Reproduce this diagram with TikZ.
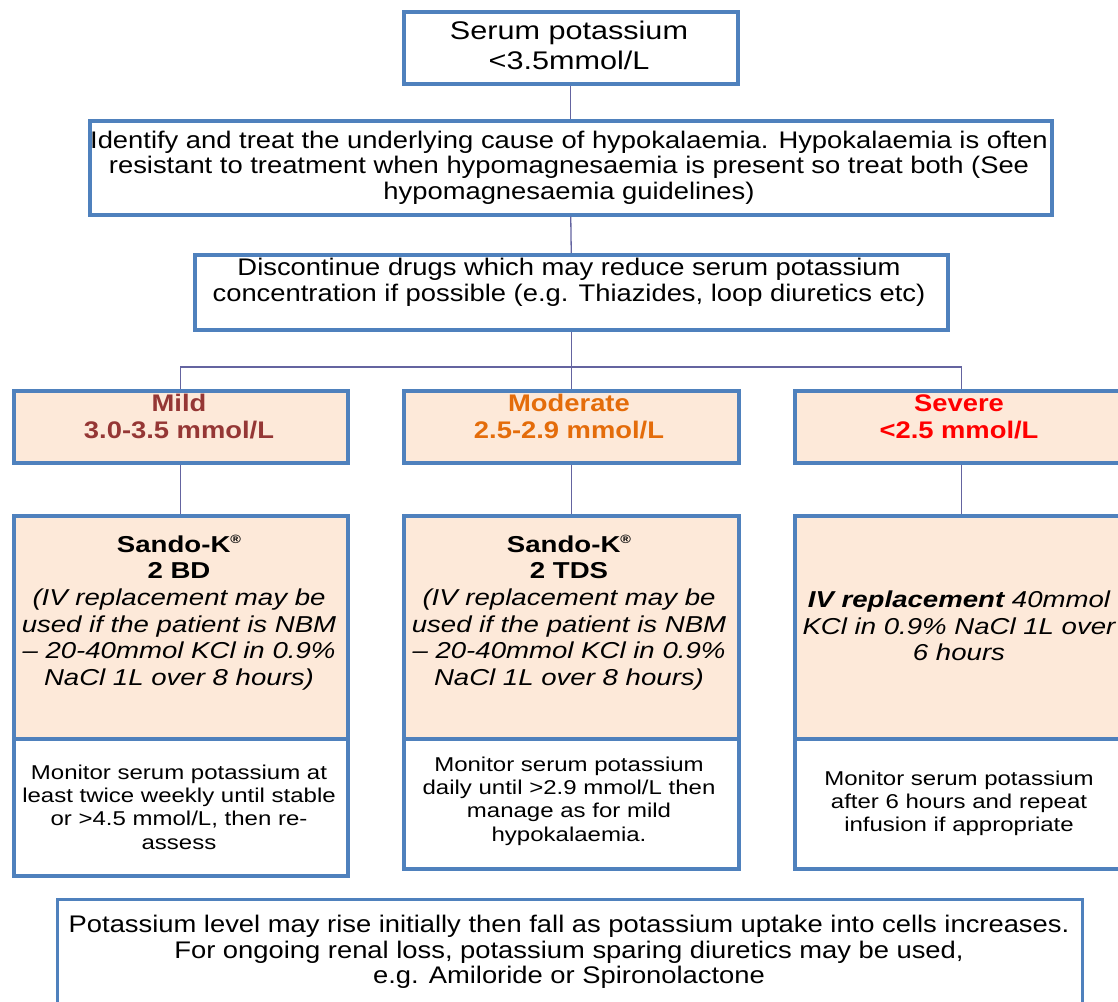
\documentclass[tikz,border=0pt]{standalone}
\usepackage{fontspec}
\setmainfont[FakeStretch=1.2]{Liberation Sans}
\newfontfamily\nar[FakeStretch=1.14]{Liberation Sans}
\definecolor{bord}{HTML}{4F81BD}
\definecolor{linkc}{HTML}{6464A0}
\definecolor{peach}{HTML}{FDE9D9}
\definecolor{mildc}{HTML}{953735}
\definecolor{modc}{HTML}{E46C0A}
\definecolor{sevc}{HTML}{FF0000}
\newcommand\bup[1]{{\bfseries\upshape #1}}
\newcommand\regmark{\raisebox{0.75ex}{\fontsize{12}{12}\selectfont ®}}
\tikzset{
 box/.style={draw=bord, line width=3.5pt, rectangle, inner sep=0pt, anchor=north west},
 pbox/.style={box, fill=peach},
 wbox/.style={box, fill=white},
 link/.style={draw=linkc, line width=1.3pt},
 txt/.style={align=center, inner sep=0pt, text=black},
 narrowtxt/.style={txt, font={\nar\fontsize{24}{25.6}\selectfont}},
 hdr/.style={align=center, inner sep=0pt, font={\nar\bfseries\fontsize{24}{27}\selectfont}},
 sando/.style={txt, font={\fontsize{23}{26.7}\selectfont\itshape}},
 mon/.style={txt, font={\fontsize{20}{23.3}\selectfont}},
}
\begin{document}
\begin{tikzpicture}[x=1pt,y=1pt]
\useasboundingbox (0,0) rectangle (1118,-1001);
\clip (0,0) rectangle (1118,-1001);
\coordinate (j) at (569,-367);
% boxes
\node[wbox, minimum width=334pt, minimum height=72pt] (top) at (402,-10) {};
\node[wbox, minimum width=962pt, minimum height=94pt] (b2) at (88,-119) {};
\node[wbox, minimum width=753pt, minimum height=75pt] (b3) at (193,-253) {};
\node[pbox, minimum width=334pt, minimum height=72pt] (hmild) at (12,-389) {};
\node[pbox, minimum width=335pt, minimum height=72pt] (hmod) at (402,-389) {};
\node[pbox, minimum width=334pt, minimum height=72pt] (hsev) at (793,-389) {};
\node[pbox, minimum width=334pt, minimum height=223pt] (smild) at (12,-514) {};
\node[pbox, minimum width=335pt, minimum height=223pt] (smod) at (402,-514) {};
\node[pbox, minimum width=334pt, minimum height=223pt] (ssev) at (793,-514) {};
\node[wbox, minimum width=334pt, minimum height=137pt] (mmild) at (12,-737) {};
\node[wbox, minimum width=335pt, minimum height=130pt] (mmod) at (402,-737) {};
\node[wbox, minimum width=334pt, minimum height=130pt] (msev) at (793,-737) {};
\node[wbox, line width=3pt, minimum width=1025pt, minimum height=112pt] (bot) at (56,-898) {};
% links
\draw[link] (top.south) -- (b2.north);
\draw[link] (b2.south) -- (b3.north);
\draw[link] (b3.south) -- (hmod.north);
\draw[link] (hmild.north) -- (hmild.north |- j) -- (hsev.north |- j) -- (hsev.north);
\draw[link] (hmild.south) -- (smild.north);
\draw[link] (hmod.south) -- (smod.north);
\draw[link] (hsev.south) -- (ssev.north);
% texts
\node[txt, font={\fontsize{25.5}{30}\selectfont}] (ttop) at (569,-45) {Serum potassium\\<3.5mmol/L};
\node[narrowtxt] (tb2) at (569,-167.5) {Identify and treat the underlying cause of hypokalaemia. Hypokalaemia is often\\resistant to treatment when hypomagnesaemia is present so treat both (See\\hypomagnesaemia guidelines)};
\node[narrowtxt] (tb3) at (569,-282) {Discontinue drugs which may reduce serum potassium\\concentration if possible (e.g. Thiazides, loop diuretics etc)};
\node[hdr, text=mildc] (thmild) at (179,-416.5) {Mild\\3.0-3.5 mmol/L};
\node[hdr, text=modc] (thmod) at (569,-416.5) {Moderate\\2.5-2.9 mmol/L};
\node[hdr, text=sevc] (thsev) at (959,-416.5) {Severe\\<2.5 mmol/L};
\node[sando] (tsmild) at (179,-612.5) {\bup{Sando-K\regmark}\\\bup{2 BD}\\(IV replacement may be\\used if the patient is NBM\\– 20-40mmol KCl in 0.9\%\\NaCl 1L over 8 hours)};
\node[sando] (tsmod) at (569,-612.5) {\bup{Sando-K\regmark}\\\bup{2 TDS}\\(IV replacement may be\\used if the patient is NBM\\– 20-40mmol KCl in 0.9\%\\NaCl 1L over 8 hours)};
\node[sando] (tssev) at (959,-626) {\textbf{IV replacement} 40mmol\\KCl in 0.9\% NaCl 1L over\\6 hours};
\node[mon] (tmmild) at (179,-807) {Monitor serum potassium at\\least twice weekly until stable\\or >4.5 mmol/L, then re-\\assess};
\node[mon] (tmmod) at (569,-801) {Monitor serum potassium\\daily until >2.9 mmol/L then\\manage as for mild\\hypokalaemia.};
\node[mon] (tmsev) at (959,-803.5) {Monitor serum potassium\\after 6 hours and repeat\\infusion if appropriate};
\node[narrowtxt] (tbot) at (569,-952) {Potassium level may rise initially then fall as potassium uptake into cells increases.\\For ongoing renal loss, potassium sparing diuretics may be used,\\e.g. Amiloride or Spironolactone};
\end{tikzpicture}
\end{document}
